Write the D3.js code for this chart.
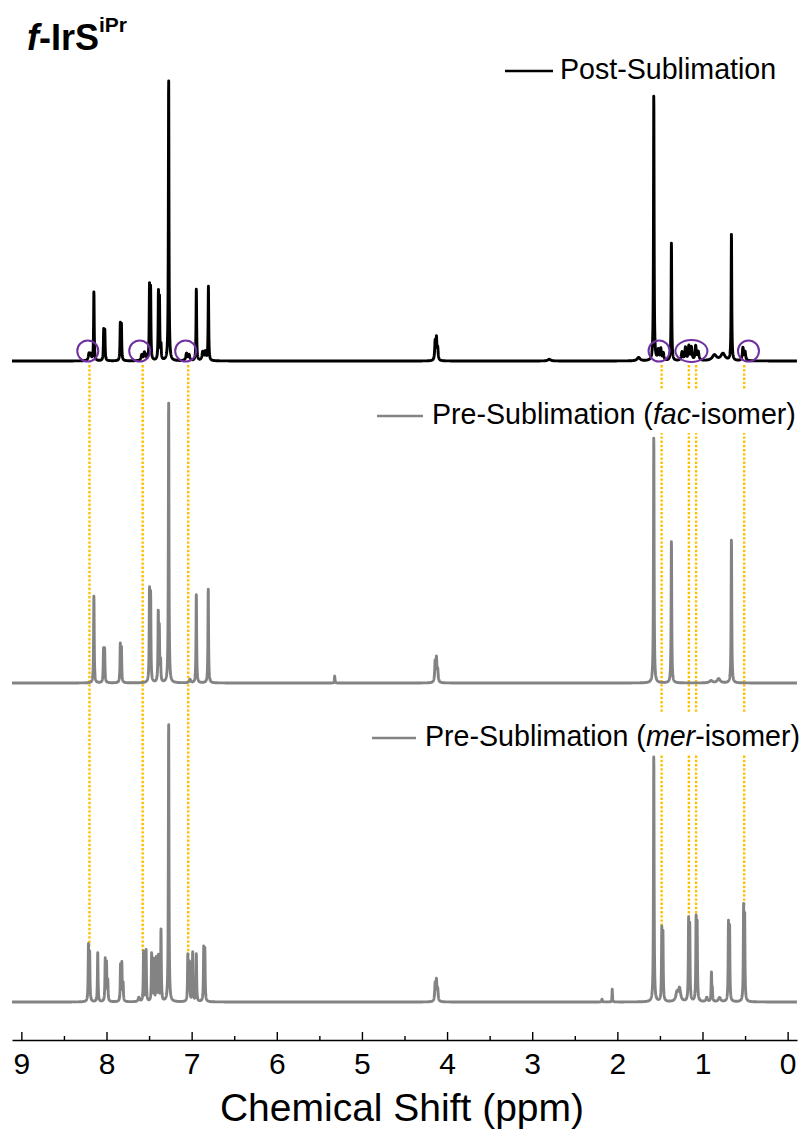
<!DOCTYPE html>
<html>
<head>
<meta charset="utf-8">
<script src="https://cdn.jsdelivr.net/npm/d3@7"></script>
<style>
  body { margin: 0; background: #fff; }
  svg { display: block; }
  text { font-family: "Liberation Sans", Arial, sans-serif; fill: #000; }
</style>
</head>
<body>
<svg id="chart" width="803" height="1146"></svg>
<script>
// 1H NMR peak lists: [shift (ppm), intensity (CHCl3 = 100), half-width (ppm, optional)]
const postPeaks = [
  [8.205, 2.5, 0.010], [8.185, 2.0, 0.008], [8.148, 24.5],
  [8.033, 10.5], [8.020, 10.5], [7.838, 12.5], [7.825, 12.5],
  [7.585, 2.0, 0.010], [7.555, 2.5, 0.008], [7.540, 1.5, 0.008],
  [7.495, 25.5], [7.482, 24.5], [7.390, 23.0], [7.378, 21.0], [7.360, 5.0],
  [7.270, 100], [7.060, 2.5, 0.010], [7.030, 2.0, 0.010],
  [6.945, 25.5], [6.870, 3.0, 0.010], [6.840, 3.0, 0.010], [6.803, 26.0],
  [4.140, 6.5, 0.006], [4.125, 7.5, 0.006], [4.110, 4.0, 0.006],
  [2.800, 0.6, 0.020], [1.750, 1.2, 0.020],
  [1.572, 94.5], [1.520, 3.5, 0.008], [1.490, 4.0, 0.008], [1.460, 2.5, 0.008],
  [1.365, 42.0], [1.240, 3.0, 0.010], [1.200, 4.5, 0.008], [1.160, 5.0, 0.008],
  [1.130, 4.5, 0.008], [1.080, 5.0, 0.008], [1.050, 3.0, 0.010],
  [0.860, 2.0, 0.030], [0.760, 2.5, 0.030], [0.660, 45.0],
  [0.525, 4.5, 0.008], [0.500, 3.0, 0.008]
];
const facPeaks = [
  [8.148, 31.0], [8.035, 11.5], [8.022, 11.5], [7.838, 13.0], [7.825, 12.0],
  [7.495, 31.5], [7.482, 30.0], [7.392, 24.0], [7.380, 18.0], [7.365, 7.0],
  [7.270, 100], [7.020, 1.2, 0.010], [6.945, 31.5], [6.805, 33.5],
  [5.320, 2.5, 0.003],
  [4.140, 7.0, 0.006], [4.125, 8.0, 0.006], [4.110, 4.0, 0.006],
  [1.572, 87.5], [1.365, 50.5], [0.900, 0.8, 0.020], [0.810, 1.5, 0.020], [0.660, 51.0]
];
const merPeaks = [
  [8.212, 19.5], [8.198, 16.5], [8.103, 17.5],
  [8.015, 14.5], [8.000, 13.0], [7.985, 7.0],
  [7.835, 12.5], [7.820, 13.0], [7.805, 6.0], [7.620, 1.5, 0.010],
  [7.565, 17.5], [7.535, 18.0], [7.470, 17.0], [7.445, 14.5], [7.415, 15.0],
  [7.390, 16.0], [7.360, 25.5], [7.270, 99.0],
  [7.045, 16.5], [7.025, 13.5], [6.988, 17.5], [6.945, 17.0],
  [6.858, 18.5], [6.845, 17.5],
  [4.140, 6.0, 0.006], [4.125, 7.0, 0.006], [4.110, 4.0, 0.006],
  [2.180, 1.0, 0.004], [2.060, 4.5, 0.003],
  [1.572, 87.5], [1.478, 24.5], [1.465, 23.5],
  [1.300, 3.0, 0.015], [1.270, 4.5, 0.015],
  [1.163, 27.5], [1.150, 26.0], [1.075, 28.0], [1.063, 26.5],
  [0.950, 1.5, 0.010], [0.895, 10.0], [0.885, 4.0], [0.800, 1.5, 0.015],
  [0.695, 26.5], [0.682, 25.5], [0.517, 32.0], [0.505, 29.0]
];

const seriesNames = ["Post-Sublimation", "Pre-Sublimation (fac-isomer)", "Pre-Sublimation (mer-isomer)"];
const xTicks = [9, 8, 7, 6, 5, 4, 3, 2, 1, 0];
const xMinorTicks = [8.5, 7.5, 6.5, 5.5, 4.5, 3.5, 2.5, 1.5, 0.5];
// shifts of the guide lines that connect the three spectra
const guideShifts = [8.20, 7.575, 7.04, 1.48, 1.16, 1.075, 0.51];
// circled impurity regions on the post-sublimation trace: [shift, wide?]
const circledShifts = [[8.22, false], [7.61, false], [7.07, false], [1.51, false], [1.13, true], [0.46, false]];

const svg = d3.select("#chart");

const x = d3.scaleLinear().domain([9.11, -0.11]).range([12, 797]);

const panels = [
  { name: seriesNames[0], peaks: postPeaks, base: 361, color: "#000000" },
  { name: seriesNames[1], peaks: facPeaks, base: 683, color: "#838383" },
  { name: seriesNames[2], peaks: merPeaks, base: 1002, color: "#838383" }
];
panels.forEach(p => {
  p.y = d3.scaleLinear().domain([0, 100]).range([p.base, p.base - 284]);
});

// Lorentzian line shape summed over a peak list
const defaultWidth = 0.004;
function intensity(peaks, ppm) {
  let s = 0;
  for (const [c, h, w0] of peaks) {
    const w = w0 || defaultWidth;
    const d = ppm - c;
    s += h * w * w / (d * d + w * w);
  }
  return s;
}
const grid = d3.range(9.11, -0.11, -0.0015);

// guide lines (dotted, gold)
const mer = panels[2];
const guideG = svg.append("g");
guideShifts.forEach(s => {
  let top = 0;
  for (let v = s - 0.02; v <= s + 0.02; v += 0.001) top = Math.max(top, intensity(merPeaks, v));
  guideG.append("line")
    .attr("x1", x(s)).attr("x2", x(s))
    .attr("y1", 365).attr("y2", mer.y(top) + 3)
    .attr("stroke", "#ffc000").attr("stroke-width", 2.4)
    .attr("stroke-dasharray", "2.4,1.8");
});

// white backing behind the lower two legend entries
[[1, 424], [2, 746]].forEach(([i, yb]) => {
  svg.append("rect").attr("x", 366).attr("y", yb - 34).attr("width", 437).attr("height", 43)
    .attr("fill", "#fff");
});

// spectra
const line = d3.line().x(d => x(d[0])).y(d => d[1]);
panels.forEach(p => {
  const pts = grid.map(v => [v, p.y(intensity(p.peaks, v))]);
  svg.append("path").attr("d", line(pts))
    .attr("fill", "none").attr("stroke", p.color)
    .attr("stroke-width", 2.9).attr("stroke-linejoin", "round");
});

// circled regions
circledShifts.forEach(([s, wide]) => {
  svg.append("ellipse")
    .attr("cx", x(s)).attr("cy", 351)
    .attr("rx", wide ? 16 : 10.5).attr("ry", wide ? 11 : 10.5)
    .attr("fill", "none").attr("stroke", "#7030a0").attr("stroke-width", 2);
});

// legends
const legendPos = [
  { x1: 505, x2: 553, tx: 560, yb: 79 },
  { x1: 377, x2: 423, tx: 432, yb: 424 },
  { x1: 372, x2: 416, tx: 425, yb: 746 }
];
panels.forEach((p, i) => {
  const L = legendPos[i];
  svg.append("line").attr("x1", L.x1).attr("x2", L.x2)
    .attr("y1", L.yb - 8).attr("y2", L.yb - 8)
    .attr("stroke", p.color).attr("stroke-width", 2.6);
  const t = svg.append("text").attr("x", L.tx).attr("y", L.yb).attr("font-size", 28.6);
  const m = p.name.match(/^(.*\()(\w+)(-isomer\))$/);
  if (m) {
    t.append("tspan").text(m[1]);
    t.append("tspan").attr("font-style", "italic").text(m[2]);
    t.append("tspan").text(m[3]);
  } else {
    t.text(p.name);
  }
});

// axis
const axisY = 1040;
const axisG = svg.append("g").attr("transform", `translate(0,${axisY})`)
  .call(d3.axisBottom(x).tickValues(xTicks).tickSizeInner(-8).tickSizeOuter(0).tickPadding(13)
    .tickFormat(d3.format("d")));
axisG.selectAll("text").attr("font-size", 30).attr("font-family", "Liberation Sans, Arial, sans-serif").attr("fill", "#000");
axisG.selectAll("line, path").attr("stroke", "#000").attr("stroke-width", 1.4);
const minorG = svg.append("g").attr("transform", `translate(0,${axisY})`)
  .call(d3.axisBottom(x).tickValues(xMinorTicks).tickSizeInner(-4).tickSizeOuter(0).tickFormat(""));
minorG.select(".domain").remove();
minorG.selectAll("line").attr("stroke", "#000").attr("stroke-width", 1.4);

svg.append("text").attr("x", 402).attr("y", 1121).attr("text-anchor", "middle")
  .attr("font-size", 39).text("Chemical Shift (ppm)");

// compound label
const title = svg.append("text").attr("x", 27).attr("y", 50).attr("font-size", 36).attr("font-weight", "bold");
title.append("tspan").attr("font-style", "italic").text("f");
title.append("tspan").text("-IrS");
title.append("tspan").attr("font-size", 21).attr("dy", -18).text("iPr");
</script>
</body>
</html>
